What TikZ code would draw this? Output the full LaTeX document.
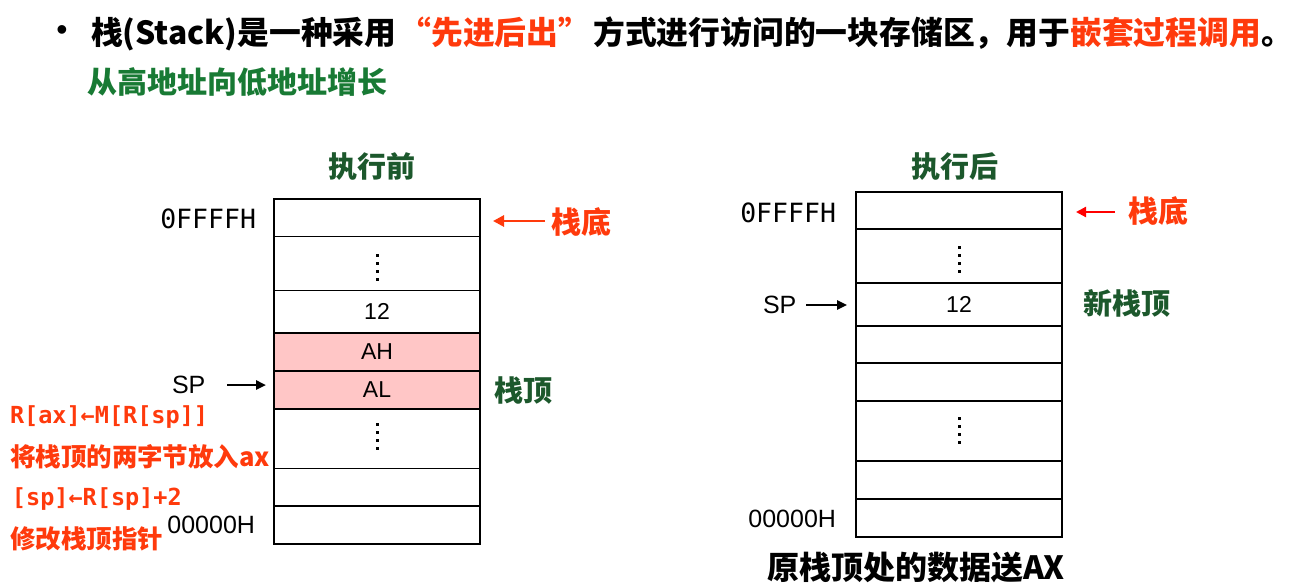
\documentclass[tikz,border=0pt]{standalone}
\usepackage{fontspec}
\setmainfont{Liberation Sans}
\newfontfamily\cjk{Noto Sans CJK SC}
\newfontfamily\mono{DejaVu Sans Mono}
\usetikzlibrary{arrows.meta,calc}
\definecolor{hired}{RGB}{255,58,12}
\definecolor{lgreen}{RGB}{24,122,52}
\definecolor{dgreen}{RGB}{28,88,44}
\definecolor{pinkc}{RGB}{255,198,198}
\tikzset{
  cell/.style={draw=black, line width=1.3pt, minimum width=206pt, inner sep=0pt, outer sep=0pt, font=\fontsize{23}{26}\selectfont},
  pinkcell/.style={cell, fill=pinkc},
  lbl/.style={inner sep=0pt, outer sep=0pt},
  cjkb/.style={lbl, font=\cjk\bfseries\fontsize{29}{34}\selectfont},
  addr/.style={lbl, font=\fontsize{25}{28}\selectfont},
  addrm/.style={lbl, font=\mono\fontsize{26.5}{28}\selectfont},
  code/.style={lbl, anchor=west, text=hired, font=\mono\bfseries\fontsize{23.5}{26}\selectfont},
  redtxt/.style={lbl, anchor=west, text=hired, font=\cjk\bfseries\fontsize{25.5}{30}\selectfont},
  blkarr/.style={-{Triangle[length=10pt,width=9pt]}, line width=2.4pt, black},
  redarr/.style={-{Triangle[length=11pt,width=11pt]}, line width=2.8pt, hired},
  purearr/.style={-{Triangle[length=10pt,width=10pt]}, line width=2.2pt, red},
  dot/.style={fill=black, draw=none}
}
\begin{document}
\begin{tikzpicture}[x=1pt,y=-1pt]
\useasboundingbox (0,0) rectangle (1296,582);
\fill[white] (0,0) rectangle (1296,582);

% title
\node[lbl, font=\fontsize{32}{34}\selectfont] (bul) at (62,33) {•};
\node[lbl, anchor=west, font=\cjk\bfseries\fontsize{31.8}{36}\selectfont] (title) at (91,34)
  {栈(Stack)是一种采用\hspace{3pt}\textcolor{hired}{“先进后出”}\hspace{3pt}方式进行访问的一块存储区，用于\textcolor{hired}{嵌套过程调用}。};
\node[lbl, anchor=west, text=lgreen, font=\cjk\bfseries\fontsize{30}{34}\selectfont] (sub) at (87,82) {从高地址向低地址增长};

% ===== left stack =====
\node[cjkb, text=dgreen] (hL) at (372,167) {执行前};
\node[cell, minimum height=37.5pt] (L1) at (377,217.75) {};
\node[cell, minimum height=54pt] (L2) at (377,263.5) {};
\node[cell, minimum height=42.5pt] (L3) at (377,311.75) {12};
\node[pinkcell, minimum height=38pt] (L4) at (377,352) {AH};
\node[pinkcell, minimum height=38pt] (L5) at (377,390) {AL};
\node[cell, minimum height=59.5pt] (L6) at (377,438.75) {};
\node[cell, minimum height=37.5pt] (L7) at (377,487.25) {};
\node[cell, minimum height=38pt] (L8) at (377,525) {};
\foreach \yy in {254,262,270,278} {\fill[dot] (375.5,\yy) rectangle ++(3.2,3.2);}
\foreach \yy in {423,431,439,447} {\fill[dot] (375.5,\yy) rectangle ++(3.2,3.2);}

\node[addrm, anchor=east] (topL) at (256,219) {0FFFFH};
\node[addr, anchor=east] (botAL) at (255,525) {00000H};
\node[addr, anchor=west] (spL) at (172,385) {SP};
\draw[blkarr] ($(spL.east)+(22,0)$) -- ($(spL.east -| L5.west)+(-8,0)$);
\node[cjkb, anchor=west, text=hired, font=\cjk\bfseries\fontsize{30}{34}\selectfont] (diL) at (551,222) {栈底};
\draw[redarr] ($(diL.west)+(-6,-1)$) -- ($(diL.west -| L1.east)+(13,-1)$);
\node[cjkb, anchor=west, text=dgreen] (dingL) at (494,391) {栈顶};

\node[code] (c1) at (10,417) {R[ax]←M[R[sp]]};
\node[redtxt] (c2) at (10,457) {将栈顶的两字节放入ax};
\node[code] (c3) at (12,499) {[sp]←R[sp]+2};
\node[redtxt] (c4) at (10,539) {修改栈顶指针};

% ===== right stack =====
\node[cjkb, text=dgreen] (hR) at (955,167) {执行后};
\node[cell, minimum height=37pt] (R1) at (959,210.5) {};
\node[cell, minimum height=54pt] (R2) at (959,256) {};
\node[cell, minimum height=43pt] (R3) at (959,304.5) {12};
\node[cell, minimum height=37pt] (R4) at (959,344.5) {};
\node[cell, minimum height=38pt] (R5) at (959,382) {};
\node[cell, minimum height=60pt] (R6) at (959,431) {};
\node[cell, minimum height=38pt] (R7) at (959,480) {};
\node[cell, minimum height=38pt] (R8) at (959,518) {};
\foreach \yy in {246,254,262,270} {\fill[dot] (957.5,\yy) rectangle ++(3.2,3.2);}
\foreach \yy in {417,425,433,441} {\fill[dot] (957.5,\yy) rectangle ++(3.2,3.2);}

\node[addrm, anchor=east] (topR) at (836,213) {0FFFFH};
\node[addr, anchor=east] (botAR) at (836,519) {00000H};
\node[addr, anchor=west] (spR) at (763,305) {SP};
\draw[blkarr] ($(spR.east)+(10,0)$) -- ($(spR.east -| R3.west)+(-9,0)$);
\node[cjkb, anchor=west, text=hired, font=\cjk\bfseries\fontsize{30}{34}\selectfont] (diR) at (1128,211) {栈底};
\draw[purearr] ($(diR.west)+(-13,1)$) -- ($(diR.west -| R1.east)+(14,1)$);
\node[cjkb, anchor=west, text=dgreen] (xinR) at (1083,303) {新栈顶};
\node[cjkb, text=black, font=\cjk\bfseries\fontsize{32}{36}\selectfont] (cap) at (916,567) {原栈顶处的数据送AX};
\end{tikzpicture}
\end{document}
